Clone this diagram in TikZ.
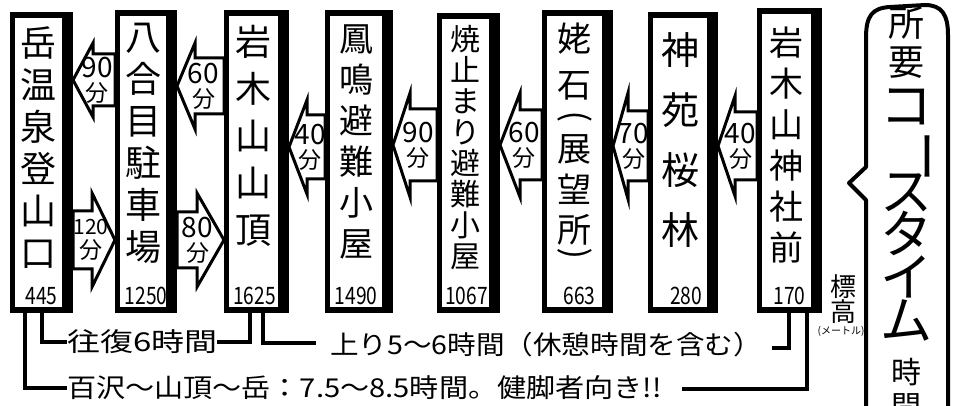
\documentclass[tikz,border=0pt]{standalone}
\usepackage{fontspec}
\setmainfont{Noto Sans CJK JP}
\usetikzlibrary{calc}
\newcommand\fsz[2]{\fontsize{#1}{#2}\selectfont\lineskiplimit=-1000pt\relax}
\newcommand\vparL{\rotatebox[origin=c]{90}{)}}
\newcommand\vparR{\rotatebox[origin=c]{90}{(}}
\newcommand\vbar{\hspace*{26pt}\rotatebox[origin=c]{-90}{ー}}
\tikzset{
  stn/.style={fill=black, inner sep=0pt, outer sep=0pt, anchor=north west},
  blk/.style={draw=black, line width=3pt, fill=white, line join=miter, miter limit=20},
  lbl/.style={inner sep=0pt, outer sep=0pt, align=center, text=black},
  arrtxt/.style={lbl, font={\fsz{28}{24}}},
  numtxt/.style={lbl, font={\fsz{24}{24}}},
  conn/.style={line width=4pt, line join=miter},
  bubble/.style={line width=4pt, line join=round, line cap=round},
}
\newcommand\fen{{\fsz{23}{24}分}}
\newcommand\elev[1]{\scalebox{0.8}[1]{#1}}
\newcommand\stnbox[5]{%
  \node[stn, minimum width=#4pt, minimum height=#5pt] (#1) at (#2,#3) {};
  \fill[white] ($(#1.north west)+(5,6)$) rectangle ($(#1.south east)+(-11,-6)$);}
% name, tip x, head base x, body end x, cy, head half, body half, text
\newcommand\leftblk[8]{%
  \draw[blk] (#2,#5) -- (#3,#5-#6) -- (#3,#5-#7) -- (#4,#5-#7) -- (#4,#5+#7) -- (#3,#5+#7) -- (#3,#5+#6) -- cycle;
  \node[arrtxt] (#1) at ({(#2+#4)/2+3},#5) {#8};}
% name, tail x, head base x, tip x, cy, head half, body half, text
\newcommand\rightblk[8]{%
  \draw[blk] (#2,#5-#7) -- (#3,#5-#7) -- (#3,#5-#6) -- (#4,#5) -- (#3,#5+#6) -- (#3,#5+#7) -- (#2,#5+#7) -- cycle;
  \node[arrtxt] (#1) at ({(#2+#4)/2-3},#5) {#8};}
\begin{document}
\begin{tikzpicture}[x=1pt,y=-1pt]
\useasboundingbox (0,0) rectangle (954,406);
\fill[white] (0,0) rectangle (954,406);
% station boxes
\stnbox{b1}{10}{12}{63}{301}
\stnbox{b2}{115}{10}{62}{303}
\stnbox{b3}{224}{10}{65}{303}
\stnbox{b4}{325}{10}{68}{303}
\stnbox{b5}{437}{13}{63}{300}
\stnbox{b6}{542}{10}{71}{303}
\stnbox{b7}{648}{12}{70}{301}
\stnbox{b8}{757}{8}{65}{305}
% station names
\node[lbl, font={\fsz{36}{42}}] (l1) at (38.5,148) {岳\\温\\泉\\登\\山\\口};
\node[lbl, font={\fsz{36}{42}}] (l2) at (143,143) {八\\合\\目\\駐\\車\\場};
\node[lbl, font={\fsz{36}{47}}] (l3) at (253.5,136) {岩\\木\\山\\山\\頂};
\node[lbl, font={\fsz{34}{41}}] (l4) at (356,142) {鳳\\鳴\\避\\難\\小\\屋};
\node[lbl, font={\fsz{30}{31}}] (l5) at (465.5,148) {焼\\止\\ま\\り\\避\\難\\小\\屋};
\node[lbl, font={\fsz{34}{42}}] (l6) at (574.5,143.5) {姥\\[4pt]石\\[-12pt]\vparL\\[-8pt]展\\[-1pt]望\\[-2pt]所\\[-20pt]\vparR};
\node[lbl, font={\fsz{38}{60}}] (l7) at (680,140) {神\\苑\\桜\\林};
\node[lbl, font={\fsz{34}{41}}] (l8) at (786.5,145) {岩\\木\\山\\神\\社\\前};
% elevations
\node[numtxt] (n1) at ($(b1.south)+(0,-17)$) {\elev{445}};
\node[numtxt] (n2) at ($(b2.south)+(0,-17)$) {\elev{1250}};
\node[numtxt] (n3) at ($(b3.south)+(-2,-17)$) {\elev{1625}};
\node[numtxt] (n4) at ($(b4.south)+(-3,-17)$) {\elev{1490}};
\node[numtxt] (n5) at ($(b5.south)+(-2,-17)$) {\elev{1067}};
\node[numtxt] (n6) at ($(b6.south)+(2,-17)$) {\elev{663}};
\node[numtxt] (n7) at ($(b7.south)+(3,-17)$) {\elev{280}};
\node[numtxt] (n8) at ($(b8.south)+(0,-17)$) {\elev{170}};
% time arrows
\leftblk{a1}{73}{93}{115}{80}{37}{26}{90\\\fen}
\leftblk{a2}{177}{195}{224}{86}{43}{28}{60\\\fen}
\leftblk{a3}{289}{307}{325}{147}{47}{32}{40\\\fen}
\leftblk{a4}{393}{410}{437}{145}{52}{36}{90\\\fen}
\leftblk{a5}{500}{520}{542}{145}{52}{35}{60\\\fen}
\leftblk{a6}{613}{628}{648}{146}{53}{35}{70\\\fen}
\leftblk{a7}{718}{735}{757}{146}{50}{34}{40\\\fen}
\rightblk{r1}{73}{92}{115}{240}{47}{29}{{\fsz{21}{24}120}\\\fen}
\rightblk{r2}{177}{197}{224}{240}{47}{28}{80\\\fen}
% bottom notes
\node[lbl, anchor=west, font={\fsz{26}{26}}] (t1) at (67,342) {\scalebox{1.27}[1]{往復6時間}};
\node[lbl, anchor=west, font={\fsz{26}{26}}] (t2) at (330,345) {\scalebox{1.1}[1]{上り5～6時間（休憩時間を含む）}};
\node[lbl, anchor=west, font={\fsz{26}{26}}] (t3) at (67,388) {\scalebox{1.12}[1]{百沢～山頂～岳：7.5～8.5時間。健脚者向き!!}};
\coordinate (c2e) at (316,343);
\coordinate (c3e) at (772,348);
\coordinate (c5s) at (682,389);
\draw[conn] ($(b1.south)+(0,-2)$) |- (t1.west);
\draw[conn] (t1.east) -| ($(b3.south)+(-6.5,-2)$);
\draw[conn] ($(b3.south)+(6.5,-2)$) |- (c2e);
\draw[conn] (c3e) -| ($(b8.south)+(-1,-2)$);
\draw[conn] ($(b1.south)+(-16.5,-2)$) |- (t3.west);
\draw[conn] (c5s) -| ($(b8.south)+(17.5,-2)$);
% elevation legend
\node[lbl, font={\fsz{26}{25}}] (e1) at (843,299) {標\\高};
\node[lbl, font={\fsz{10}{10}}] (e2) at (841,331) {(メートル)};
% course time bubble
\draw[bubble] (866,412) -- (866,200) -- (849,183) -- (866,167) -- (866,38)
  .. controls (866,16) and (872,8) .. (890,7) -- (925,5)
  .. controls (942,5) and (948,15) .. (948,35) -- (948,412);
\node[lbl, font={\fsz{36}{39}}] (s1) at (906,43) {所\\要};
\node[lbl, font={\fsz{52}{43}}] (s2) at (906,215.5) {コ\\\vbar\\ス\\タ\\イ\\ム};
\node[lbl, font={\fsz{30}{34}}] (s3) at (906,389) {時\\間};
\end{tikzpicture}
\end{document}
